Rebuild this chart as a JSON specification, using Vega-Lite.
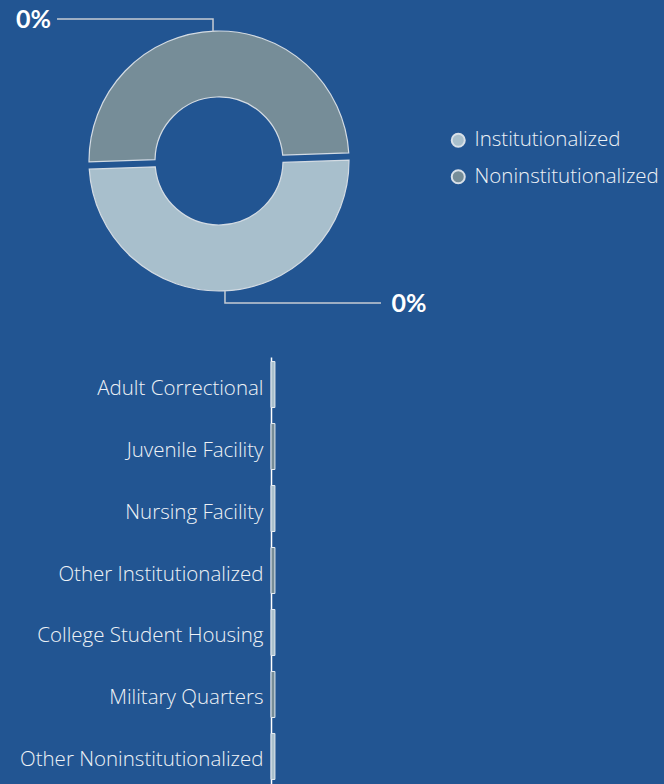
{
  "$schema": "https://vega.github.io/schema/vega-lite/v6.json",
  "background": "#225592",
  "padding": {"left": 16, "top": 0, "right": 0, "bottom": 0},
  "spacing": 0,
  "config": {"view": {"stroke": null}, "font": "Lato"},
  "resolve": {"scale": {"color": "independent"}},
  "vconcat": [
    {
      "width": 393,
      "height": 357,
      "layer": [
        {
          "data": {"values": [
            {"group": "Institutionalized", "share": 50, "rank": 1},
            {"group": "Noninstitutionalized", "share": 50, "rank": 2}
          ]},
          "mark": {"type": "arc", "outerRadius": 130, "innerRadius": 64, "padAngle": 0.05, "stroke": "#d3dbe3", "strokeWidth": 1.2},
          "encoding": {
            "theta": {"field": "share", "type": "quantitative", "stack": true, "scale": {"range": [1.536, 7.819]}},
            "order": {"field": "rank", "type": "quantitative"},
            "color": {
              "field": "group", "type": "nominal",
              "scale": {"domain": ["Institutionalized", "Noninstitutionalized"], "range": ["#a8bfcc", "#768d98"]},
              "legend": {
                "title": null, "orient": "none", "legendX": 177, "legendY": 130,
                "symbolType": "circle", "symbolSize": 170, "symbolStrokeColor": "#d8e0e8", "symbolStrokeWidth": 2,
                "symbolOpacity": 1, "labelFontSize": 20.5, "labelColor": "#eef2f6", "labelFont": "Open Sans", "labelFontWeight": 300,
                "labelOffset": 6, "labelLimit": 400, "rowPadding": 14.5
              }
            },
            "x": {"datum": 0, "type": "quantitative", "scale": {"domain": [0.4, 3.423], "nice": false, "zero": false}, "axis": null},
            "y": {"datum": 0, "type": "quantitative", "scale": {"domain": [-1.508, 1.2385], "nice": false, "zero": false}, "axis": null}
          }
        },
        {
          "data": {"values": [
            {"label": "top", "seq": 1, "lx": -0.046, "ly": 0.992},
            {"label": "top", "seq": 2, "lx": -0.046, "ly": 1.092},
            {"label": "top", "seq": 3, "lx": -1.246, "ly": 1.092},
            {"label": "bottom", "seq": 1, "lx": 0.046, "ly": -1.0},
            {"label": "bottom", "seq": 2, "lx": 0.046, "ly": -1.092},
            {"label": "bottom", "seq": 3, "lx": 1.246, "ly": -1.092}
          ]},
          "mark": {"type": "line", "color": "#c6ccd3", "strokeWidth": 1.5},
          "encoding": {
            "x": {"field": "lx", "type": "quantitative"},
            "y": {"field": "ly", "type": "quantitative"},
            "detail": {"field": "label"},
            "order": {"field": "seq", "type": "quantitative"}
          }
        },
        {
          "data": {"values": [
            {"text": "0%", "tx": -1.426, "ty": 1.092},
            {"text": "0%", "tx": 1.462, "ty": -1.092}
          ]},
          "mark": {"type": "text", "fontSize": 25, "fontWeight": "bold", "color": "#ffffff", "align": "center", "baseline": "middle", "dy": 1},
          "encoding": {
            "x": {"field": "tx", "type": "quantitative"},
            "y": {"field": "ty", "type": "quantitative"},
            "text": {"field": "text"}
          }
        }
      ]
    },
    {
      "width": 393,
      "height": 427,
      "data": {"values": [
        {"type": "Adult Correctional", "value": 1.0, "shade": "light"},
        {"type": "Juvenile Facility", "value": 1.0, "shade": "dark"},
        {"type": "Nursing Facility", "value": 1.0, "shade": "light"},
        {"type": "Other Institutionalized", "value": 1.0, "shade": "dark"},
        {"type": "College Student Housing", "value": 1.0, "shade": "light"},
        {"type": "Military Quarters", "value": 1.0, "shade": "dark"},
        {"type": "Other Noninstitutionalized", "value": 1.0, "shade": "light"}
      ]},
      "mark": {"type": "bar", "stroke": "#e6ecf2", "strokeWidth": 1},
      "encoding": {
        "y": {
          "field": "type", "type": "nominal", "sort": null,
          "scale": {"paddingInner": 0.258, "paddingOuter": 0.073},
          "axis": {"title": null, "domainColor": "#ffffff", "domainWidth": 1.5, "ticks": false, "labelFontSize": 20.5, "labelColor": "#eef2f6", "labelFont": "Open Sans", "labelFontWeight": 300, "labelPadding": 8, "labelOffset": 4, "labelLimit": 300}
        },
        "x": {"field": "value", "type": "quantitative", "scale": {"domain": [0, 100]}, "axis": null},
        "color": {"field": "shade", "type": "nominal", "scale": {"domain": ["light", "dark"], "range": ["#a8bfcc", "#768d98"]}, "legend": null}
      }
    }
  ]
}
